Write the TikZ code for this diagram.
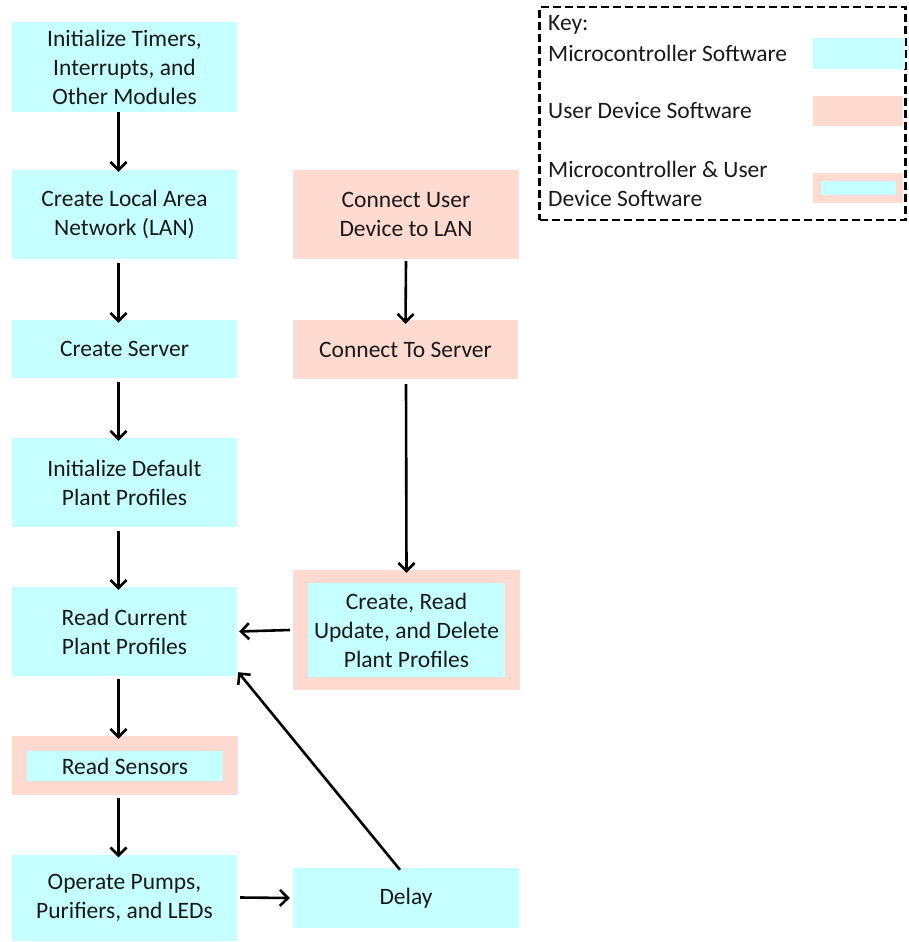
\documentclass[tikz,border=0pt]{standalone}
\usepackage{fontspec}
\setmainfont{Carlito}
\usetikzlibrary{arrows.meta}
\definecolor{mcu}{RGB}{198,255,255}
\definecolor{usr}{RGB}{255,218,208}
\begin{document}
\begin{tikzpicture}[x=1pt,y=-1pt,
  every node/.style={font=\fontsize{23.5}{29}\selectfont, text=black!90},
  mbox/.style={fill=mcu, draw=none, align=center, inner sep=0pt},
  ubox/.style={fill=usr, draw=none, align=center, inner sep=0pt},
  flow/.style={line width=2.6pt, -{Straight Barb[length=8pt,width=16pt,line width=2.6pt]}}]
\useasboundingbox (0,0) rectangle (908,942);
% left column
\node[mbox, minimum width=225pt, minimum height=90pt] (init) at (124.5,67) {Initialize Timers,\\Interrupts, and\\Other Modules};
\node[mbox, minimum width=225pt, minimum height=89pt] (lan) at (124.5,214.5) {Create Local Area\\Network (LAN)};
\node[mbox, minimum width=225pt, minimum height=58pt] (server) at (124.5,349) {Create Server};
\node[mbox, minimum width=225pt, minimum height=89pt] (defp) at (124.5,482.5) {Initialize Default\\Plant Profiles};
\node[mbox, minimum width=225pt, minimum height=89pt] (readp) at (124.5,631.5) {Read Current\\Plant Profiles};
\node[ubox, minimum width=226pt, minimum height=59pt] (sensO) at (124.5,765.5) {};
\node[mbox, minimum width=196pt, minimum height=30pt] (sens) at (125,766) {Read Sensors};
\node[mbox, minimum width=225pt, minimum height=86pt] (oper) at (124.5,897.5) {Operate Pumps,\\Purifiers, and LEDs};
% right column
\node[ubox, minimum width=226pt, minimum height=89pt] (conn) at (406,214.5) {Connect User\\Device to LAN};
\node[ubox, minimum width=225pt, minimum height=59pt] (cserv) at (405.5,349.5) {Connect To Server};
\node[ubox, minimum width=227pt, minimum height=120pt] (crudO) at (406.5,630) {};
\node[mbox, minimum width=197pt, minimum height=94pt] (crud) at (406.5,630) {Create, Read\\Update, and Delete\\Plant Profiles};
\node[mbox, minimum width=226pt, minimum height=60pt] (delay) at (406,898) {Delay};
% key
\node[draw, dash pattern=on 8pt off 4pt, line width=2.4pt, minimum width=366pt, minimum height=213pt, inner sep=0pt] (key) at (722.5,113.5) {};
\node[anchor=west, inner sep=0pt] (kt) at (548,25) {Key:};
\node[anchor=west, inner sep=0pt] (k1) at (548,53) {Microcontroller Software};
\node[anchor=west, inner sep=0pt] (k2) at (548,111) {User Device Software};
\node[anchor=west, align=left, inner sep=0pt] (k3) at (548,184) {Microcontroller \& User\\Device Software};
\node[mbox, minimum width=92pt, minimum height=31pt] (s1) at (859,53.5) {};
\node[ubox, minimum width=90pt, minimum height=30pt] (s2) at (858,111) {};
\node[ubox, minimum width=90pt, minimum height=30pt] (s3) at (858,188) {};
\node[mbox, minimum width=75pt, minimum height=14pt] (s3i) at (858.5,188) {};
% arrows
\draw[flow] ([xshift=-6pt]init.south) -- ([xshift=-6pt,yshift=-2pt]lan.north);
\draw[flow] ([xshift=-6pt,yshift=-4pt]lan.south) -- ([xshift=-6pt,yshift=-3pt]server.north);
\draw[flow] ([xshift=-6pt,yshift=-4pt]server.south) -- ([xshift=-6pt,yshift=-3pt]defp.north);
\draw[flow] ([xshift=-6pt,yshift=-4pt]defp.south) -- ([xshift=-6pt,yshift=-3pt]readp.north);
\draw[flow] ([xshift=-6pt,yshift=-3pt]readp.south) -- ([xshift=-6pt,yshift=-3pt]sensO.north);
\draw[flow] ([xshift=-6pt,yshift=-3pt]sensO.south) -- ([xshift=-6pt,yshift=-3pt]oper.north);
\draw[flow] ([yshift=-2pt]conn.south) -- ([yshift=-4pt]cserv.north);
\draw[flow] ([xshift=0.5pt,yshift=-5pt]cserv.south) -- ([yshift=-3pt]crudO.north);
\draw[flow] ([xshift=-3pt]crudO.west) -- ([xshift=2pt]readp.east);
\draw[flow] ([xshift=3pt]oper.east) -- ([xshift=-3pt]delay.west);
\draw[flow] ([xshift=-6pt,yshift=-2pt]delay.north) -- ([xshift=1pt,yshift=4pt]readp.south east);
\end{tikzpicture}
\end{document}
